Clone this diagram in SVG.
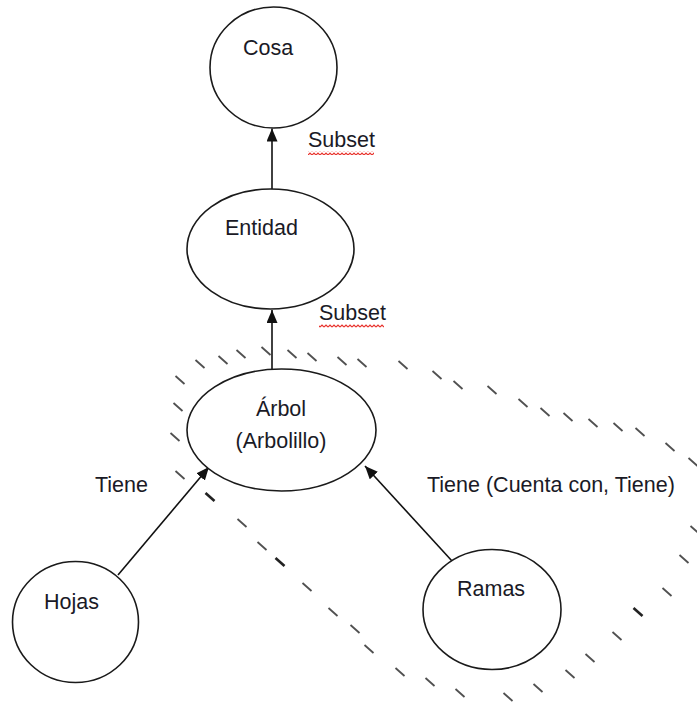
<svg xmlns="http://www.w3.org/2000/svg" width="697" height="705" viewBox="0 0 697 705">
  <style>
    .node { fill: #fff; stroke: #1a1a1a; stroke-width: 1.6; }
    .lbl { font-family: "Liberation Sans", Arial, sans-serif; font-size: 21.5px; fill: #1a1a26; }
    .edge { stroke: #111; stroke-width: 1.6; fill: none; marker-end: url(#ah); }
    .hatch { stroke: #505050; stroke-width: 1.8; stroke-linecap: butt; }
    .hatch-bold { stroke: #222; stroke-width: 2.6; }
  </style>
  <defs>
    <marker id="ah" markerUnits="userSpaceOnUse" markerWidth="15" markerHeight="12" refX="13" refY="5.5" orient="auto">
      <path d="M0,0 L13,5.5 L0,11 z" fill="#111"/>
    </marker>
    <!-- one short backslash-shaped stroke of the dashed lasso -->
    <path id="ds" d="M-4.5,-4 L4.5,4"/>
    <!-- red spell-check squiggle -->
    <pattern id="sq" width="4" height="4" patternUnits="userSpaceOnUse">
      <path d="M0,3 L2,1 L4,3" stroke="#e8302a" stroke-width="1.2" fill="none"/>
    </pattern>
  </defs>

  <rect width="697" height="705" fill="#fff"/>

  <!-- dashed freehand outline around Árbol and Ramas -->
  <g id="lasso" class="hatch">
    <use href="#ds" x="180" y="475"/>
    <use href="#ds" x="175" y="437"/>
    <use href="#ds" x="178" y="407"/>
    <use href="#ds" x="180" y="380"/>
    <use href="#ds" x="200" y="364"/>
    <use href="#ds" x="223" y="360"/>
    <use href="#ds" x="241" y="354"/>
    <use href="#ds" x="266" y="351"/>
    <use href="#ds" x="292" y="354"/>
    <use href="#ds" x="312" y="357"/>
    <use href="#ds" x="342" y="361"/>
    <use href="#ds" x="362" y="363"/>
    <use href="#ds" x="403" y="365"/>
    <use href="#ds" x="437" y="375"/>
    <use href="#ds" x="458" y="385"/>
    <use href="#ds" x="492" y="390"/>
    <use href="#ds" x="523" y="403"/>
    <use href="#ds" x="545" y="412"/>
    <use href="#ds" x="568" y="417"/>
    <use href="#ds" x="593" y="423"/>
    <use href="#ds" x="618" y="427"/>
    <use href="#ds" x="640" y="432"/>
    <use href="#ds" x="670" y="447"/>
    <use href="#ds" x="693" y="462"/>
    <use href="#ds" x="695" y="530"/>
    <use href="#ds" x="684" y="559"/>
    <use href="#ds" x="667" y="592"/>
    <use href="#ds" x="638" y="612" class="hatch-bold"/>
    <use href="#ds" x="617" y="636"/>
    <use href="#ds" x="590" y="658"/>
    <use href="#ds" x="570" y="674"/>
    <use href="#ds" x="538" y="688"/>
    <use href="#ds" x="508" y="697"/>
    <use href="#ds" x="460" y="693"/>
    <use href="#ds" x="430" y="682"/>
    <use href="#ds" x="400" y="672"/>
    <use href="#ds" x="369" y="649"/>
    <use href="#ds" x="355" y="629"/>
    <use href="#ds" x="333" y="612"/>
    <use href="#ds" x="307" y="587"/>
    <use href="#ds" x="280" y="562" class="hatch-bold"/>
    <use href="#ds" x="262" y="546"/>
    <use href="#ds" x="242" y="523"/>
    <use href="#ds" x="210" y="497" class="hatch-bold"/>
  </g>

  <!-- connectors -->
  <g id="edges">
    <path class="edge" d="M272,189 L272,128.5"/>
    <path class="edge" d="M272,369 L272,310"/>
    <path class="edge" d="M118,575 L209,467"/>
    <path class="edge" d="M452,561 L365,466"/>
  </g>

  <g id="cosa">
    <ellipse class="node" cx="273.5" cy="67.5" rx="63.5" ry="60.5"/>
    <text class="lbl" x="243" y="55">Cosa</text>
  </g>

  <g id="entidad">
    <ellipse class="node" cx="270.5" cy="249" rx="83.5" ry="60"/>
    <text class="lbl" x="225" y="235">Entidad</text>
  </g>

  <g id="arbol">
    <ellipse class="node" cx="281.5" cy="430" rx="94.5" ry="61"/>
    <text class="lbl" x="281" y="416" text-anchor="middle">Árbol</text>
    <text class="lbl" x="281" y="448" text-anchor="middle">(Arbolillo)</text>
  </g>

  <g id="hojas">
    <ellipse class="node" cx="75.5" cy="622" rx="63" ry="60.5"/>
    <text class="lbl" x="44" y="609">Hojas</text>
  </g>

  <g id="ramas">
    <ellipse class="node" cx="492" cy="609.5" rx="69" ry="60"/>
    <text class="lbl" x="457" y="596">Ramas</text>
  </g>

  <!-- relation labels -->
  <g id="labels">
    <text class="lbl" x="308" y="147">Subset</text>
    <rect x="308" y="151" width="66" height="4" fill="url(#sq)"/>
    <text class="lbl" x="319" y="320">Subset</text>
    <rect x="319" y="324" width="65" height="4" fill="url(#sq)"/>
    <text class="lbl" x="95" y="492">Tiene</text>
    <text class="lbl" x="427" y="492">Tiene (Cuenta con, Tiene)</text>
  </g>
</svg>
